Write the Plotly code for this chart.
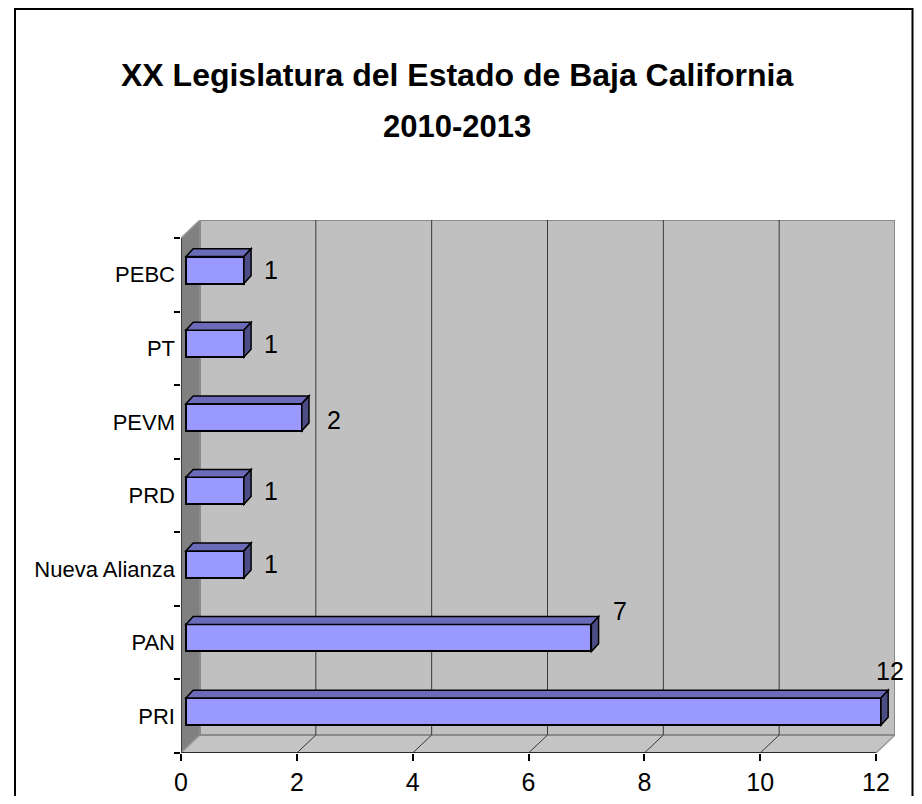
import plotly.graph_objects as go

# ---- data ----
categories = ["PRI", "PAN", "Nueva Alianza", "PRD", "PEVM", "PT", "PEBC"]
seats = [12, 7, 1, 1, 2, 1, 1]
x_ticks = [0, 2, 4, 6, 8, 10, 12]
title_lines = ["XX Legislatura del Estado de Baja California", "2010-2013"]

# ---- page geometry (browser body has an 8px margin) ----
OFF = 8
W, H = 922 - 2 * OFF, 804 - 2 * OFF
L, T = 181 - OFF, 220 - OFF
R, B = W - (895 - OFF), H - (753 - OFF)
PW, PH = W - L - R, H - T - B
XMAX = max(x_ticks)
n = len(categories)
px_per_x = PW / (XMAX + 19 / 58.0)
px_per_y = PH / (n + 18 / 73.57)
DX = 19 / px_per_x          # depth offset of back wall (x units)
DY = 18 / px_per_y          # depth offset of back wall (category units)
f0 = 0.26                   # bar front face depth fraction
fd = 0.38                   # bar depth fraction
bx0, by0 = DX * f0, DY * f0
bdx, bdy = DX * fd, DY * fd * 1.15
bar_w = 0.367

FONT = "Liberation Sans, Arial, sans-serif"

fig = go.Figure()
fig.add_trace(go.Bar(
    y=categories, x=seats, base=[bx0] * n, orientation="h",
    width=bar_w, offset=-bar_w / 2 + by0,
    marker=dict(color="#9999FF", line=dict(color="black", width=2)),
    hoverinfo="x+y",
))

shapes = []
ybot, ytop = -0.5, n - 0.5
# left wall
shapes.append(dict(type="path", xref="x", yref="y", layer="below",
                   path=f"M0,{ybot} L0,{ytop} L{DX},{ytop+DY} L{DX},{ybot+DY} Z",
                   fillcolor="#808080", line=dict(color="#808080", width=1)))
# floor
shapes.append(dict(type="path", xref="x", yref="y", layer="below",
                   path=f"M0,{ybot} L{XMAX},{ybot} L{XMAX+DX},{ybot+DY} L{DX},{ybot+DY} Z",
                   fillcolor="#C4C4C4", line=dict(color="#9A9A9A", width=1.5)))
# back wall
shapes.append(dict(type="rect", xref="x", yref="y", layer="below",
                   x0=DX, x1=XMAX + DX, y0=ybot + DY, y1=ytop + DY,
                   fillcolor="#C0C0C0", line=dict(color="#8A8A8A", width=2)))
# gridlines on back wall and floor
for k in x_ticks[1:-1]:
    shapes.append(dict(type="line", xref="x", yref="y", layer="below",
                       x0=k + DX, x1=k + DX, y0=ybot + DY, y1=ytop + DY,
                       line=dict(color="#3A3A3A", width=1)))
    shapes.append(dict(type="line", xref="x", yref="y", layer="below",
                       x0=k, x1=k + DX, y0=ybot, y1=ybot + DY,
                       line=dict(color="#3A3A3A", width=1)))
# left wall front edge
shapes.append(dict(type="line", xref="x", yref="y", layer="below",
                   x0=0, x1=0, y0=ybot, y1=ytop, line=dict(color="#3A3A3A", width=2)))
# left wall top edge
shapes.append(dict(type="line", xref="x", yref="y", layer="below",
                   x0=0, x1=DX, y0=ytop, y1=ytop + DY, line=dict(color="#9A9A9A", width=1.5)))
# x axis line (front floor edge)
shapes.append(dict(type="line", xref="x", yref="y", layer="below",
                   x0=0, x1=XMAX, y0=ybot, y1=ybot, line=dict(color="#2A2A2A", width=2)))

# 3D faces of bars
for i, v in enumerate(seats):
    yb = i + by0 - bar_w / 2
    yt = i + by0 + bar_w / 2
    xl = bx0
    xr = bx0 + v
    shapes.append(dict(type="path", xref="x", yref="y", layer="above",
                       path=f"M{xl},{yt} L{xr},{yt} L{xr+bdx},{yt+bdy} L{xl+bdx},{yt+bdy} Z",
                       fillcolor="#6B6BBA", line=dict(color="black", width=1.5)))
    shapes.append(dict(type="path", xref="x", yref="y", layer="above",
                       path=f"M{xr},{yb} L{xr},{yt} L{xr+bdx},{yt+bdy} L{xr+bdx},{yb+bdy} Z",
                       fillcolor="#4D4D85", line=dict(color="black", width=1.5)))

# outer frame
shapes.append(dict(type="rect", xref="paper", yref="paper",
                   x0=(15 - OFF - L) / PW, x1=(W - 1.5 - L) / PW,
                   y0=-0.5, y1=1 + (T - 1) / PH,
                   line=dict(color="black", width=2), fillcolor="rgba(0,0,0,0)", layer="below"))

annotations = []
for i, v in enumerate(seats):
    big = v > XMAX / 2
    annotations.append(dict(
        x=bx0 + v + bdx, y=i + by0, xref="x", yref="y",
        text=str(v), showarrow=False,
        xanchor="center" if v == XMAX else "left",
        yanchor="middle",
        xshift=2 if v == XMAX else (12 if big else 11 + (v - 1) * 5),
        yshift=(41 if v == XMAX else 27) if big else (-3 if v > 1 else 0),
        font=dict(family=FONT, size=25, color="black"),
    ))

# title lines
title_sizes = [32, 31]
for j, line in enumerate(title_lines):
    annotations.append(dict(
        x=(457 - OFF - L) / PW, y=(H - B - (75 - OFF + 52 * j)) / PH,
        xref="paper", yref="paper",
        text="<b>" + line + "</b>", showarrow=False,
        xanchor="center", yanchor="middle",
        font=dict(family=FONT, size=title_sizes[j], color="black"),
    ))

fig.update_layout(
    width=W, height=H,
    margin=dict(l=L, r=R, t=T, b=B),
    paper_bgcolor="white", plot_bgcolor="white",
    showlegend=False,
    bargap=0,
    shapes=shapes, annotations=annotations,
    xaxis=dict(range=[0, XMAX + DX], tickvals=x_ticks, ticktext=[str(t) for t in x_ticks],
               automargin=False,
               showgrid=False, zeroline=False, showline=False,
               ticks="outside", ticklen=7, tickwidth=1.5, tickcolor="black",
               tickfont=dict(family=FONT, size=25, color="black")),
    yaxis=dict(type="category", categoryorder="array", categoryarray=categories,
               range=[ybot, ytop + DY], tickson="boundaries", automargin=False,
               showgrid=False, zeroline=False, showline=False,
               ticks="outside", ticklen=6, tickwidth=1.5, tickcolor="black",
               ticklabelstandoff=5,
               tickfont=dict(family=FONT, size=22, color="black")),
)

fig.write_html("out.html")
